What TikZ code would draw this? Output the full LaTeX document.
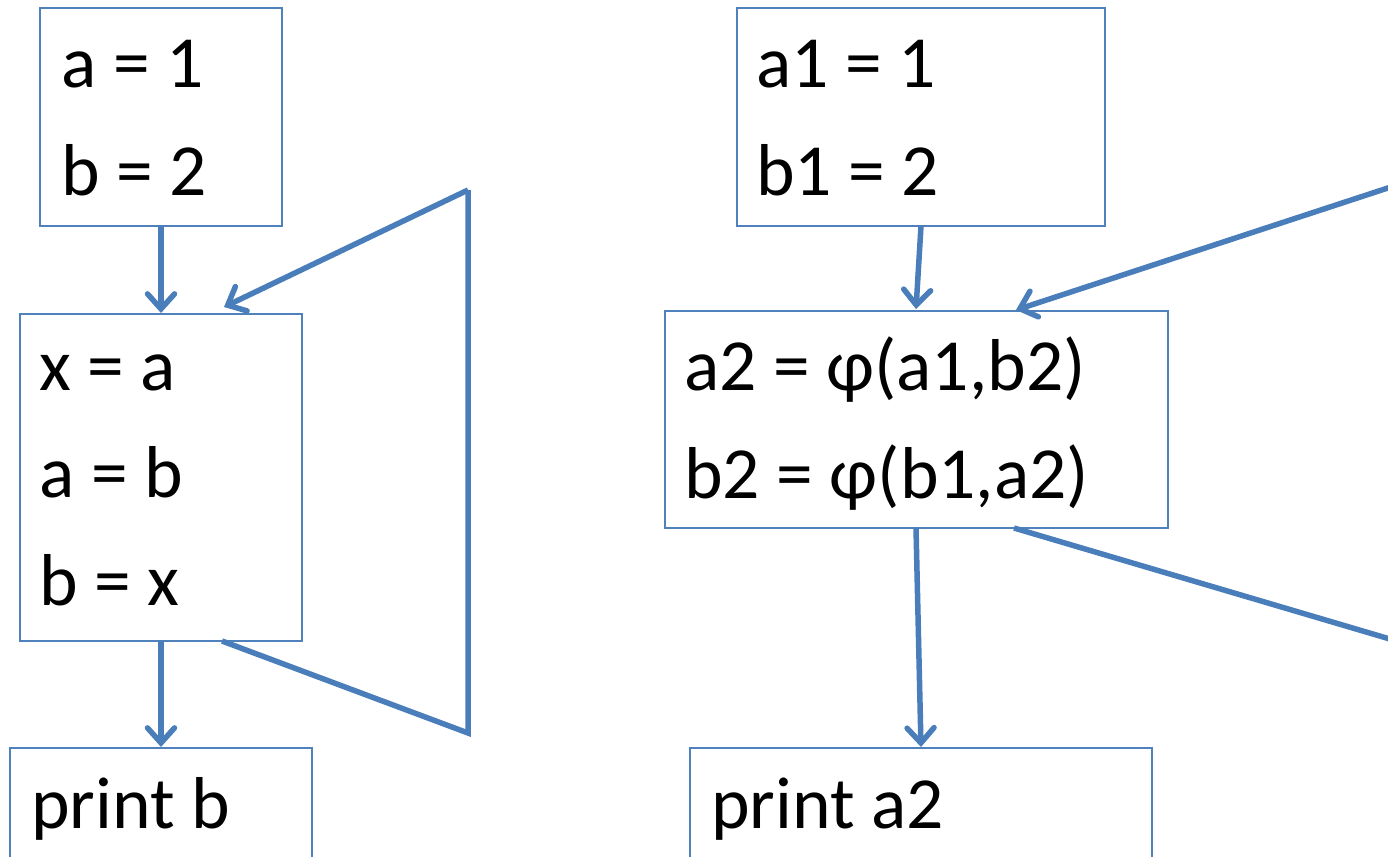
\documentclass[tikz,border=0pt]{standalone}
\usepackage{fontspec}
\setmainfont{Carlito}
\usetikzlibrary{arrows.meta}
\definecolor{edgeblue}{HTML}{4A7EBB}
\definecolor{boxblue}{HTML}{4F81BD}
\begin{document}
\begin{tikzpicture}[x=1pt,y=-1pt,
  box/.style={draw=boxblue,line width=2pt},
  txt/.style={anchor=base west,inner sep=0pt,font=\fontsize{73.5}{86}\selectfont},
  conn/.style={draw=edgeblue,line width=5.5pt},
  arr/.style={conn,-{Straight Barb[length=15pt,width=27pt,line width=5.5pt,line cap=round]}}]
\useasboundingbox (0,0) rectangle (1388,856);
\clip (0,0) rectangle (1388,856);
% left graph
\draw[box] (40,8) rectangle (282,226);
\draw[box] (20,314) rectangle (302,641);
\draw[box] (10,748) rectangle (312,900);
\node[txt] (t1) at (61,88) {a = 1};
\node[txt] (t2) at (61,195) {b = 2};
\node[txt] (t3) at (39,390) {x = a};
\node[txt] (t4) at (39,497) {a = b};
\node[txt] (t5) at (39,605) {b = x};
\node[txt] (t6) at (31,828) {print b};
\coordinate (b1s) at (161,226);
\coordinate (b2n) at (161,313);
\coordinate (b2s) at (161,641);
\coordinate (b3n) at (161,747);
\coordinate (lt) at (468,190);
\coordinate (lb) at (468,733);
\coordinate (b2in) at (224,307);
\coordinate (b2out) at (222,641);
\draw[arr] (b1s) -- (b2n);
\draw[arr] (b2s) -- (b3n);
\draw[conn] (b2out) -- (lb) -- (lt);
\draw[arr] (lt) -- (b2in);
% right graph
\draw[box] (737,8) rectangle (1105,226);
\draw[box] (665,311) rectangle (1168,528);
\draw[box] (690,748) rectangle (1152,900);
\node[txt] (r1) at (756,88) {a1 = 1};
\node[txt] (r2) at (756,195) {b1 = 2};
\node[txt] (r3) at (684,390) {a2 = φ(a1,b2)};
\node[txt] (r4) at (684,498) {b2 = φ(b1,a2)};
\node[txt] (r6) at (711,828) {print a2};
\coordinate (r1s) at (921,226);
\coordinate (r2n) at (916,309);
\coordinate (r2s) at (916,528);
\coordinate (r3n) at (921,747);
\coordinate (rt) at (1400,184);
\coordinate (rb) at (1400,642);
\coordinate (r2in) at (1016,310);
\coordinate (r2out) at (1014,528);
\draw[arr] (r1s) -- (r2n);
\draw[arr] (r2s) -- (r3n);
\draw[conn] (r2out) -- (rb);
\draw[arr] (rt) -- (r2in);
\end{tikzpicture}
\end{document}
